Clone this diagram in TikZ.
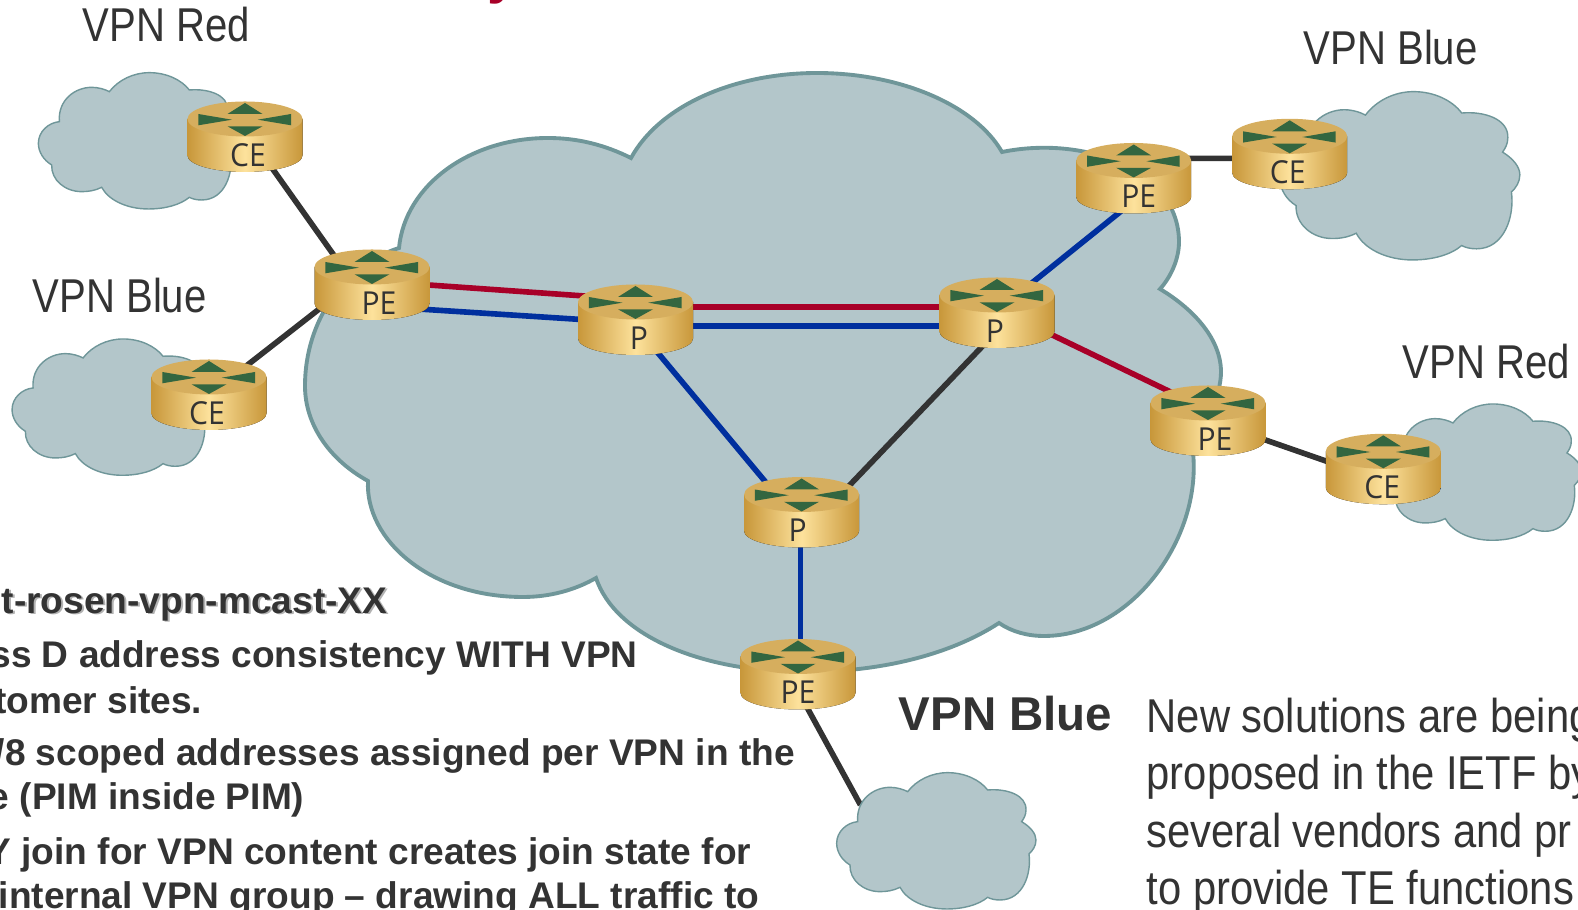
\documentclass[tikz,border=0pt]{standalone}
\usepackage{fontspec}
\setmainfont{Liberation Sans}
\newfontfamily\vpnfont[FakeStretch=0.845]{Liberation Sans}
\newfontfamily\notefont[FakeStretch=0.88]{Liberation Sans}
\newfontfamily\routerfont[FakeStretch=0.95]{Open Sans}

\definecolor{cloudfill}{HTML}{B3C6CA}
\definecolor{cloudedge}{HTML}{6F9699}
\definecolor{goldedge}{HTML}{C8973A}
\definecolor{goldlight}{HTML}{FDE29C}
\definecolor{goldtop}{HTML}{D6AE5E}
\definecolor{arrowgreen}{HTML}{336640}
\definecolor{vpnred}{HTML}{A80028}
\definecolor{vpnblue}{HTML}{002F9E}
\definecolor{darkink}{HTML}{333333}

\tikzset{
  redlink/.style={vpnred, line width=1.6pt},
  bluelink/.style={vpnblue, line width=1.6pt},
  blacklink/.style={darkink, line width=1.6pt},
  vpnlabel/.style={anchor=base west, inner sep=0pt, text=darkink, font=\vpnfont\fontsize{13.5}{16}\selectfont},
  notelabel/.style={anchor=base west, inner sep=0pt, text=darkink, font=\notefont\fontsize{13.5}{16}\selectfont},
  bodyline/.style={anchor=base east, inner sep=0pt, text=darkink, font=\bfseries\fontsize{10.55}{12}\selectfont},
  pics/router/.style n args={2}{code={
    \fill[left color=goldedge, right color=goldedge, middle color=goldlight]
      (-57.5,-18) -- (-57.5,18.5) .. controls (-57.5,27.6) and (-31.8,35) .. (0,35)
      .. controls (31.8,35) and (57.5,27.6) .. (57.5,18.5) -- (57.5,-18) -- cycle;
    \fill[goldtop] (0,-18) ellipse [x radius=57.5, y radius=17.5];
    \fill[arrowgreen] (0,-34) -- (-17.5,-23) -- (17.5,-23) -- cycle;
    \fill[arrowgreen] (0,-1) -- (-17.5,-10.7) -- (17.5,-10.7) -- cycle;
    \fill[arrowgreen] (-46.7,-23) -- (-46.7,-11.7) -- (-13,-17.3) -- cycle;
    \fill[arrowgreen] (46,-23) -- (46,-11.7) -- (12.7,-17.3) -- cycle;
    \node[anchor=base, inner sep=0pt, text=darkink, font=\routerfont\fontsize{9}{10}\selectfont] (-text) at (#2,29.5) {#1};
  }},
  cloudblob/.pic={
    \draw[fill=cloudfill, draw=cloudedge, line width=0.4pt]
      (113,185) .. controls (108,120) and (160,82) .. (210,82) .. controls (230,82) and (250,88) .. (263,95)
      .. controls (290,60) and (335,38) .. (383,38) .. controls (435,38) and (480,60) .. (503,90)
      .. controls (560,85) and (620,105) .. (618,150) .. controls (618,165) and (612,175) .. (605,185)
      .. controls (630,200) and (648,220) .. (648,240) .. controls (648,258) and (638,272) .. (627,282)
      .. controls (635,340) and (610,420) .. (540,420) .. controls (525,420) and (512,417) .. (503,412)
      .. controls (475,435) and (430,447) .. (380,447) .. controls (315,447) and (260,420) .. (240,382)
      .. controls (220,392) and (200,395) .. (180,395) .. controls (130,395) and (88,360) .. (90,315)
      .. controls (65,300) and (50,275) .. (50,250) .. controls (50,215) and (80,188) .. (113,185) -- cycle;
  }
}

\begin{document}
\begin{tikzpicture}[x=0.01cm, y=-0.01cm]
  \useasboundingbox (0,0) rectangle (1578,910);
  \clip (0,0) rectangle (1578,910);

  % router positions
  \foreach \nm/\x/\y in {cered/245/137, ceblue/209/395, pea/372/285, pa/635.5/320, pb/997/313,
    pc/801.6/512.5, peb/1133.7/178.5, cetop/1289.7/154.3, pec/1208/421, ceright/1383.3/469.3, ped/798/674.5} {
    \coordinate (\nm) at (\x,\y);
  };
  \coordinate (lowend) at (860.5,805);

  % core cloud
  \draw[fill=cloudfill, draw=cloudedge, line width=1.1pt]
    (399,248) .. controls (405,185) and (470,138) .. (548,138) .. controls (578,138) and (605,145) .. (631,158)
    .. controls (660,105) and (735,73) .. (817,73) .. controls (900,73) and (975,105) .. (1002,152)
    .. controls (1085,135) and (1179,170) .. (1179,242) .. controls (1179,260) and (1170,278) .. (1160,289)
    .. controls (1195,310) and (1221,340) .. (1221,372) .. controls (1221,395) and (1205,430) .. (1193,452)
    .. controls (1202,540) and (1130,636) .. (1044,636) .. controls (1028,636) and (1012,632) .. (999,623)
    .. controls (950,655) and (880,672) .. (805,672) .. controls (700,672) and (615,635) .. (596,578)
    .. controls (575,590) and (550,597) .. (523,597) .. controls (430,597) and (365,540) .. (368,481)
    .. controls (330,460) and (305,425) .. (305,386) .. controls (305,320) and (345,265) .. (399,248) -- cycle;

  % links
  \draw[blacklink] ([shift={(5,0)}]cered) -- ([shift={(-17,0)}]pea);
  \draw[blacklink] (ceblue) -- ([shift={(-22,0)}]pea);
  \draw[redlink] ([shift={(0,-4)}]pea) -- ([shift={(0,-20.4)}]pa);
  \draw[bluelink] ([shift={(0,21)}]pea) -- ([shift={(0,3)}]pa);
  \draw[redlink] ([shift={(0,-13)}]pa) -- ([shift={(0,-6)}]pb);
  \draw[bluelink] ([shift={(0,6)}]pa) -- ([shift={(0,13)}]pb);
  \draw[bluelink] ([shift={(-5,0)}]pa) -- ([shift={(-10.6,0)}]pc);
  \draw[blacklink] ([shift={(0,18)}]pb) -- ([shift={(22,0)}]pc);
  \draw[bluelink] ([shift={(0,-2)}]pb) -- ([shift={(28,0)}]peb);
  \draw[blacklink] ([shift={(0,-20)}]peb) -- ([shift={(0,4)}]cetop);
  \draw[redlink] ([shift={(0,-4.6)}]pb) -- ([shift={(0,-11)}]pec);
  \draw[blacklink] ([shift={(0,-1)}]pec) -- ([shift={(0,11.7)}]ceright);
  \draw[bluelink] ([shift={(-1,0)}]pc) -- ([shift={(2.6,0)}]ped);
  \draw[blacklink] ([shift={(-9,0)}]ped) -- (lowend);

  % site clouds
  \foreach \x/\y/\sx/\sy in {21.7/60/0.3333/0.3333, -4.6/326.3/0.3333/0.3333, 1260/76/0.401/0.4115,
    1365.3/391.3/0.3333/0.3333, 820/760/0.3333/0.3333} {
    \pic[shift={(\x,\y)}, xscale=\sx, yscale=\sy] {cloudblob};
  };

  % routers
  \foreach \nm/\lab/\dx in {cered/CE/3, ceblue/CE/-2, pea/PE/7, pa/P/3.5, pb/P/-2, pc/P/-4,
    peb/PE/5, cetop/CE/-2, pec/PE/7, ceright/CE/-1, ped/PE/0} {
    \pic (\nm) at (\nm) {router={\lab}{\dx}};
  };

  % site names
  \node[vpnlabel] (redtop) at (82,42) {VPN Red};
  \node[vpnlabel] (bluetop) at (1303,64.5) {VPN Blue};
  \node[vpnlabel] (blueleft) at (32,313) {VPN Blue};
  \node[vpnlabel] (redright) at (1402,379) {VPN Red};
  \node[anchor=base west, inner sep=0pt, text=darkink, font=\bfseries\fontsize{13.5}{16}\selectfont] (bluelow) at (898,731) {VPN Blue};

  % cut off title
  \node[anchor=base, inner sep=0pt, text=vpnred, font=\bfseries\fontsize{16}{18}\selectfont] (titley) at (503,-7) {y};

  % left text
  \node[bodyline, text=black!30] (draftshade) at (390,615) {t-rosen-vpn-mcast-XX};
  \node[bodyline] (draftline) at (388,613.5) {t-rosen-vpn-mcast-XX};
  \node[bodyline] (lineb) at (638.5,667.7) {ss D address consistency WITH VPN};
  \node[bodyline] (linec) at (203,713.5) {tomer sites.};
  \node[bodyline] (lined) at (795.5,766) {/8 scoped addresses assigned per VPN in the};
  \node[bodyline] (linee) at (305,810) {e (PIM inside PIM)};
  \node[bodyline] (linef) at (752,865) {Y join for VPN content creates join state for};
  \node[bodyline] (lineg) at (760,909) {internal VPN group – drawing ALL traffic to};

  % right text
  \node[notelabel] (newa) at (1146,732.7) {New solutions are being};
  \node[notelabel] (newb) at (1146,790) {proposed in the IETF by};
  \node[notelabel] (newc) at (1146,848) {several vendors and pr};
  \node[notelabel] (newd) at (1146,905) {to provide TE functions};
\end{tikzpicture}
\end{document}
